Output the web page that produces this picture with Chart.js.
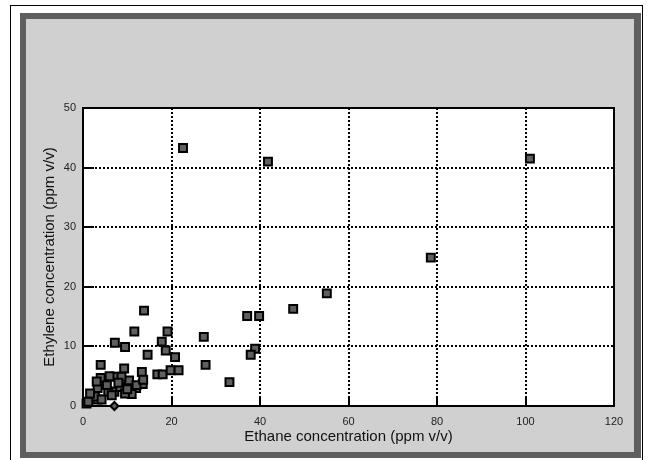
<!DOCTYPE html>
<html>
<head>
<meta charset="utf-8">
<script src="https://cdn.jsdelivr.net/npm/chart.js@4/dist/chart.umd.min.js"></script>
<style>
  html, body { margin: 0; padding: 0; background: #ffffff; }
  #wrap { position: relative; width: 651px; height: 460px; overflow: hidden; }
  #outer { position: absolute; left: 10px; top: 5px; width: 633px; height: 470px; border: 1px solid #000; border-bottom: none; box-sizing: border-box; }
  #frame { position: absolute; left: 20px; top: 13px; width: 621px; height: 445px; background: #5f5f5f; }
  #inner { position: absolute; left: 26px; top: 19px; width: 608px; height: 433px; background: #d0d0d0; }
  canvas { position: absolute; left: 0; top: 0; }
</style>
</head>
<body>
<div id="wrap">
  <div id="outer"></div>
  <div id="frame"></div>
  <div id="inner"></div>
  <canvas id="c" width="651" height="460"></canvas>
</div>
<script>
// Data
const ethane = [
  22.6, 41.8, 101.0, 78.6, 55.1, 47.5, 37.1, 39.8, 27.3, 27.7,
  33.1, 38.9, 37.9, 13.8, 11.6, 19.1, 17.8, 18.7, 7.2, 9.5,
  14.6, 20.8, 4.0, 9.3, 13.3, 16.8, 18.0, 19.8, 21.6, 13.5,
  12.0, 10.4, 4.0, 7.1, 7.1, 5.7, 3.3, 3.3, 0.8, 11.0,
  5.4, 8.4, 9.5, 2.7, 1.2, 4.2, 1.6, 3.1, 8.7, 12.1,
  13.6, 6.0, 8.0, 6.5, 10.0
];
const ethylene = [
  43.3, 41.0, 41.5, 24.9, 18.9, 16.3, 15.1, 15.1, 11.6, 6.9,
  4.0, 9.6, 8.6, 16.0, 12.5, 12.5, 10.8, 9.3, 10.6, 9.9,
  8.6, 8.2, 6.9, 6.3, 5.7, 5.3, 5.3, 6.0, 6.0, 3.7,
  3.0, 4.3, 4.7, 4.9, 2.4, 2.4, 3.0, 1.1, 0.4, 2.0,
  3.5, 3.2, 2.1, 1.6, 0.7, 1.1, 2.1, 4.1, 4.9, 3.5,
  4.4, 5.0, 3.9, 1.8, 2.8
];
const extraEthane = [7.1];
const extraEthylene = [0];

const xTicks = [0, 20, 40, 60, 80, 100, 120];
const yTicks = [0, 10, 20, 30, 40, 50];
const xTitle = 'Ethane concentration (ppm v/v)';
const yTitle = 'Ethylene concentration (ppm v/v)';

const pts = ethane.map((x, i) => ({ x: x, y: ethylene[i] }));
const extraPts = extraEthane.map((x, i) => ({ x: x, y: extraEthylene[i] }));

const plotDecor = {
  id: 'plotDecor',
  beforeDraw(chart) {
    const { ctx, chartArea: a } = chart;
    ctx.save();
    ctx.fillStyle = '#ffffff';
    ctx.fillRect(a.left, a.top, a.right - a.left, a.bottom - a.top);
    ctx.restore();
  },
  beforeDatasetsDraw(chart) {
    const { ctx, chartArea: a, scales } = chart;
    ctx.save();
    ctx.strokeStyle = '#000';
    ctx.lineWidth = 2;
    ctx.strokeRect(a.left, a.top, a.right - a.left, a.bottom - a.top);
    // inside tick marks
    ctx.beginPath();
    scales.y.ticks.forEach(t => {
      const py = Math.round(scales.y.getPixelForValue(t.value));
      ctx.moveTo(a.left, py);
      ctx.lineTo(a.left + 11, py);
    });
    scales.x.ticks.forEach(t => {
      const px = Math.round(scales.x.getPixelForValue(t.value));
      ctx.moveTo(px, a.bottom);
      ctx.lineTo(px, a.bottom - 10);
    });
    ctx.stroke();
    ctx.restore();
  }
};

new Chart(document.getElementById('c'), {
  type: 'scatter',
  data: {
    datasets: [
      {
        data: pts,
        pointStyle: 'rect',
        pointRadius: 5.6,
        pointBackgroundColor: '#5f5f5f',
        pointBorderColor: '#000',
        pointBorderWidth: 2,
        clip: false
      },
      {
        data: extraPts,
        pointStyle: 'rectRot',
        pointRadius: 4,
        pointBackgroundColor: '#5f5f5f',
        pointBorderColor: '#000',
        pointBorderWidth: 2,
        clip: false
      }
    ]
  },
  options: {
    responsive: false,
    animation: false,
    events: [],
    layout: { padding: { left: 35, top: 108, right: 37, bottom: 14 } },
    plugins: { legend: { display: false }, tooltip: { enabled: false } },
    scales: {
      x: {
        type: 'linear',
        min: 0, max: 120,
        afterBuildTicks: s => { s.ticks = xTicks.map(v => ({ value: v })); },
        afterFit: s => { s.height = 40; },
        ticks: { padding: 9, color: '#222', font: { family: 'Liberation Sans', size: 11 } },
        grid: { color: '#000', lineWidth: 2, drawTicks: false },
        border: { display: false, dash: [2, 2] },
        title: { display: true, text: xTitle, color: '#111', font: { family: 'Liberation Sans', size: 15 }, padding: { top: 0, bottom: 0 } }
      },
      y: {
        type: 'linear',
        min: 0, max: 50,
        afterBuildTicks: s => { s.ticks = yTicks.map(v => ({ value: v })); },
        afterFit: s => { s.width = 48; },
        ticks: { padding: 7, color: '#222', font: { family: 'Liberation Sans', size: 11 } },
        grid: { color: '#000', lineWidth: 2, drawTicks: false },
        border: { display: false, dash: [2, 2] },
        title: { display: true, text: yTitle, color: '#111', font: { family: 'Liberation Sans', size: 15 }, padding: { top: 6, bottom: 0 } }
      }
    }
  },
  plugins: [plotDecor]
});
</script>
</body>
</html>
